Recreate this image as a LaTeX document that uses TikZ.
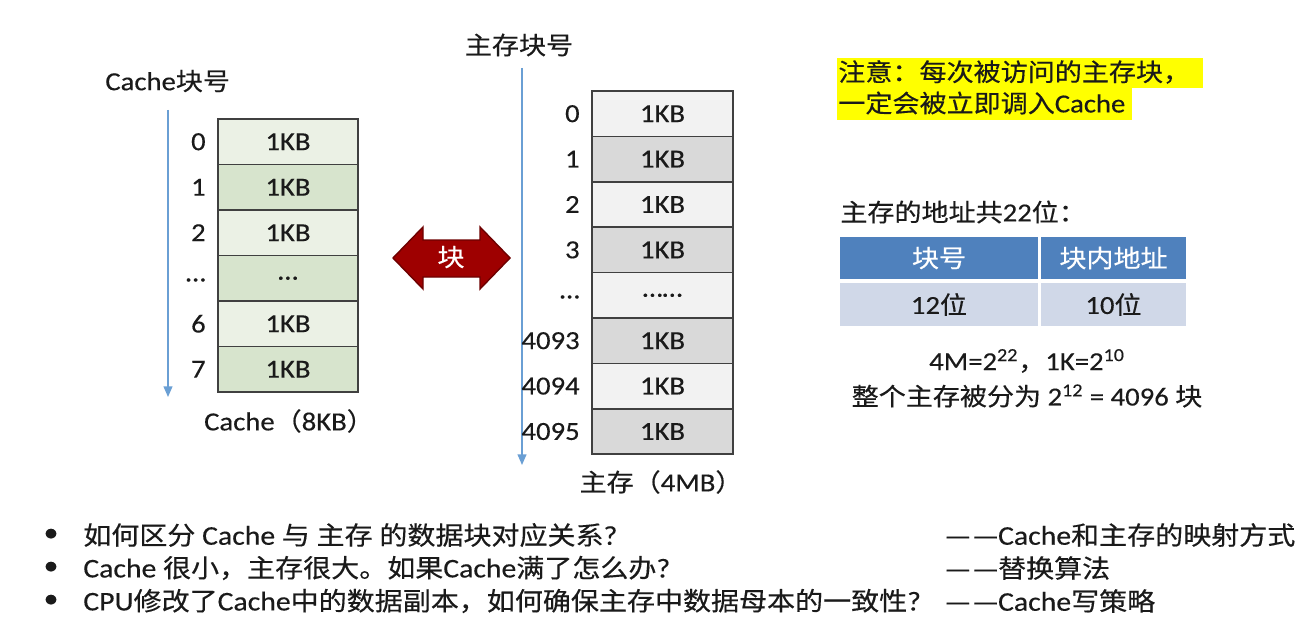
\documentclass[tikz,border=0pt]{standalone}
\usepackage{fontspec}
\setmainfont[FakeStretch=1.1,Scale=1.06,FakeBold=0.3]{Carlito}
\newfontfamily\zhfont[FakeStretch=1.1,FakeBold=0.4]{Noto Sans CJK SC}
\newcommand\zhx[1]{{\zhfont #1}}
\newcommand\ddash{{\zhfont —\kern1.5pt—}}
\usetikzlibrary{arrows.meta}
\definecolor{cgl}{HTML}{EBF1E5}
\definecolor{cgd}{HTML}{D7E4CD}
\definecolor{mgl}{HTML}{F2F2F2}
\definecolor{mgd}{HTML}{D9D9D9}
\definecolor{bord}{HTML}{404040}
\definecolor{axiscol}{HTML}{6A9FD4}
\definecolor{dred}{HTML}{9E0000}
\definecolor{dredb}{HTML}{6E0000}
\definecolor{thead}{HTML}{4F81BD}
\definecolor{trow}{HTML}{D0D8E8}
\definecolor{hl}{HTML}{FFFF00}
\definecolor{ink}{HTML}{1A1A1A}
\begin{document}
\begin{tikzpicture}[x=0.02cm,y=-0.02cm,
  txt/.style={inner sep=0pt, font=\fontsize{14}{16}\selectfont, text=ink},
  small/.style={inner sep=0pt, font=\fontsize{14.5}{17}\selectfont, text=ink},
  cell/.style={draw=bord, line width=1pt, minimum width=2.8cm, minimum height=0.91cm, inner sep=0pt, font=\fontsize{14}{16}\selectfont, text=ink},
  mcell/.style={cell, minimum width=2.82cm, minimum height=0.908cm},
  axisline/.style={draw=axiscol, line width=0.8pt, -{Triangle[length=6pt,width=5pt]}},
  hcell/.style={fill=thead, text=white, inner sep=0pt, minimum height=0.84cm, font=\fontsize{14}{16}\selectfont},
  rcell/.style={fill=trow, text=ink, inner sep=0pt, minimum height=0.86cm, font=\fontsize{14}{16}\selectfont}
]
\useasboundingbox (0,0) rectangle (1304,628);
\fill[white] (0,0) rectangle (1304,628);

% ---- Cache column ----
\node[txt, anchor=west] (cachehdr) at (105,81) {Cache\zhx{块号}};
\coordinate (ca1) at (168,110);
\coordinate (ca2) at (168,397);
\draw[axisline] (ca1) -- (ca2);
\node[cell, fill=cgl] (c0) at (288,141.75) {1KB};
\node[cell, fill=cgd] (c1) at (288,187.25) {1KB};
\node[cell, fill=cgl] (c2) at (288,232.75) {1KB};
\node[cell, fill=cgd] (c3) at (288,278.25) {…};
\node[cell, fill=cgl] (c4) at (288,323.75) {1KB};
\node[cell, fill=cgd] (c5) at (288,369.25) {1KB};
\node[txt, anchor=east] (cn0) at (206,141.75) {0};
\node[txt, anchor=east] (cn1) at (206,187.25) {1};
\node[txt, anchor=east] (cn2) at (206,232.75) {2};
\node[txt, anchor=east] (cn3) at (206,280) {…};
\node[txt, anchor=east] (cn4) at (206,323.75) {6};
\node[txt, anchor=east] (cn5) at (206,369.25) {7};
\node[txt] (cachecap) at (289,421) {Cache\zhx{（}8KB\zhx{）}};

% ---- double arrow ----
\fill[dred, draw=dredb, line width=0.8pt] (393,258) -- (423,227) -- (423,240) -- (480,240) -- (480,227) -- (510,258) -- (480,289) -- (480,277) -- (423,277) -- (423,289) -- cycle;
\node[txt, text=white] (blk) at (451,257) {\zhx{块}};

% ---- Main memory column ----
\node[txt] (memhdr) at (519,45) {\zhx{主存块号}};
\coordinate (ma1) at (522,68);
\coordinate (ma2) at (522,465);
\draw[axisline] (ma1) -- (ma2);
\node[mcell, fill=mgl] (m0) at (662.5,113.7) {1KB};
\node[mcell, fill=mgd] (m1) at (662.5,159.1) {1KB};
\node[mcell, fill=mgl] (m2) at (662.5,204.5) {1KB};
\node[mcell, fill=mgd] (m3) at (662.5,249.9) {1KB};
\node[mcell, fill=mgl] (m4) at (662.5,295.3) {……};
\node[mcell, fill=mgd] (m5) at (662.5,340.7) {1KB};
\node[mcell, fill=mgl] (m6) at (662.5,386.1) {1KB};
\node[mcell, fill=mgd] (m7) at (662.5,431.5) {1KB};
\node[txt, anchor=east] (mn0) at (580,113.7) {0};
\node[txt, anchor=east] (mn1) at (580,159.1) {1};
\node[txt, anchor=east] (mn2) at (580,204.5) {2};
\node[txt, anchor=east] (mn3) at (580,249.9) {3};
\node[txt, anchor=east] (mn4) at (580,297) {…};
\node[txt, anchor=east] (mn5) at (580,340.7) {4093};
\node[txt, anchor=east] (mn6) at (580,386.1) {4094};
\node[txt, anchor=east] (mn7) at (580,431.5) {4095};
\node[txt] (memcap) at (661,482) {\zhx{主存（}4MB\zhx{）}};

% ---- note ----
\fill[hl] (837,58) rectangle (1203,88);
\fill[hl] (837,88) rectangle (1132,120);
\node[txt, anchor=west] (note1) at (838,72) {\zhx{注意：每次被访问的主存块，}};
\node[txt, anchor=west] (note2) at (838,103) {\zhx{一定会被立即调入}Cache};

% ---- address table ----
\node[txt, anchor=west] (addr) at (840,212) {\zhx{主存的地址共}22\zhx{位：}};
\node[hcell, minimum width=3.96cm] (h1) at (939,258) {\zhx{块号}};
\node[hcell, minimum width=2.9cm] (h2) at (1113.5,258) {\zhx{块内地址}};
\node[rcell, minimum width=3.96cm] (r1) at (939,304.5) {12\zhx{位}};
\node[rcell, minimum width=2.9cm] (r2) at (1113.5,304.5) {10\zhx{位}};
\node[txt] (f1) at (1027,361) {4M=2\textsuperscript{22}\zhx{，}1K=2\textsuperscript{10}};
\node[txt] (f2) at (1027,396) {\zhx{整个主存被分为} 2\textsuperscript{12} = 4096 \zhx{块}};

% ---- bullets ----
\node[small] (b1) at (51,535) {•};
\node[small] (b2) at (51,568) {•};
\node[small] (b3) at (51,601) {•};
\node[small, anchor=west] (q1) at (83,535) {\zhx{如何区分} Cache \zhx{与} \zhx{主存} \zhx{的数据块对应关系}?};
\node[small, anchor=west] (q2) at (83,568) {Cache \zhx{很小，主存很大。如果}Cache\zhx{满了怎么办}?};
\node[small, anchor=west] (q3) at (83,601) {CPU\zhx{修改了}Cache\zhx{中的数据副本，如何确保主存中数据母本的一致性}?};
\node[small, anchor=west] (a1) at (945,535) {\ddash Cache\zhx{和主存的映射方式}};
\node[small, anchor=west] (a2) at (945,568) {\ddash\zhx{替换算法}};
\node[small, anchor=west] (a3) at (945,601) {\ddash Cache\zhx{写策略}};
\end{tikzpicture}
\end{document}
